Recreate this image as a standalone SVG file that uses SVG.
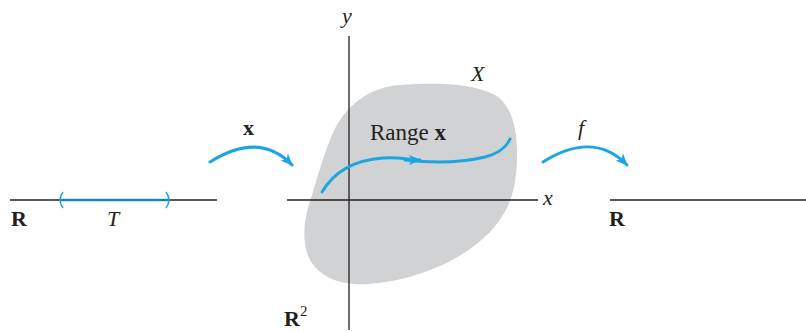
<svg xmlns="http://www.w3.org/2000/svg" width="806" height="332" viewBox="0 0 806 332">
<defs>
<marker id="ah" viewBox="0 0 12 10" refX="11" refY="5" markerWidth="12" markerHeight="10" markerUnits="userSpaceOnUse" orient="auto">
<path d="M0,0 L12,5 L0,10 L3,5 Z" fill="#1ba6e1"/>
</marker>
</defs>
<style>
.ax{stroke:#231f20;stroke-width:1.3;fill:none}
.bl{stroke:#1ba6e1;stroke-width:3;fill:none;stroke-linecap:round}
.t{font-family:"Liberation Serif","Times New Roman",serif;font-size:22px;fill:#231f20}
.i{font-style:italic}
.b{font-weight:bold}
</style>
<g id="blob">
<path d="M400,85 C430,83 470,82 495,95 C512,105 518,130 517,160 C516,190 510,210 490,232 C465,258 420,280 370,284 C340,286 320,277 310,260 C300,240 305,215 312,195 C318,175 322,160 332,135 C345,105 370,87 400,85 Z" fill="#d1d2d4"/>
</g>
<g id="axes">
<line class="ax" x1="10" y1="200" x2="217" y2="200"/>
<line class="ax" x1="287" y1="200" x2="538" y2="200"/>
<line class="ax" x1="349" y1="36" x2="349" y2="330"/>
<line class="ax" x1="610" y1="200" x2="806" y2="200"/>
</g>
<g id="T">
<line x1="61" y1="200" x2="168" y2="200" stroke="#1ba6e1" stroke-width="2.5"/>
<line x1="61" y1="200" x2="168" y2="200" stroke="#1d4f6a" stroke-width="0.8"/>
<path d="M63,192 Q57,200 63,208" stroke="#1ba6e1" stroke-width="1.5" fill="none"/>
<path d="M166,192 Q172,200 166,208" stroke="#1ba6e1" stroke-width="1.5" fill="none"/>
</g>
<g id="connectors">
<path class="bl" d="M210,162 C240,143 268,140 292,165" marker-end="url(#ah)"/>
<path class="bl" d="M543,162 C573,143 603,140 627,165" marker-end="url(#ah)"/>
<path class="bl" d="M322,192 C335,170 355,160 383,158 C400,157 410,160 420,160" marker-end="url(#ah)"/>
<path class="bl" d="M405,160 C430,163 460,163 485,157 C500,153 507,146 510,139"/>
</g>
<g id="labels">
<text class="t b" x="11" y="226">R</text>
<text class="t i" x="107" y="226">T</text>
<text class="t b" x="243" y="135">x</text>
<text class="t i" x="342" y="23">y</text>
<text class="t i" x="471" y="81">X</text>
<text x="370" y="140" class="t" style="font-size:23px">Range <tspan class="b">x</tspan></text>
<text class="t i" x="543" y="205">x</text>
<text class="t i" x="578" y="135">f</text>
<text class="t b" x="609" y="226">R</text>
<text class="t b" x="284" y="326">R<tspan font-size="15" dy="-10" font-weight="normal">2</tspan></text>
</g>
</svg>
